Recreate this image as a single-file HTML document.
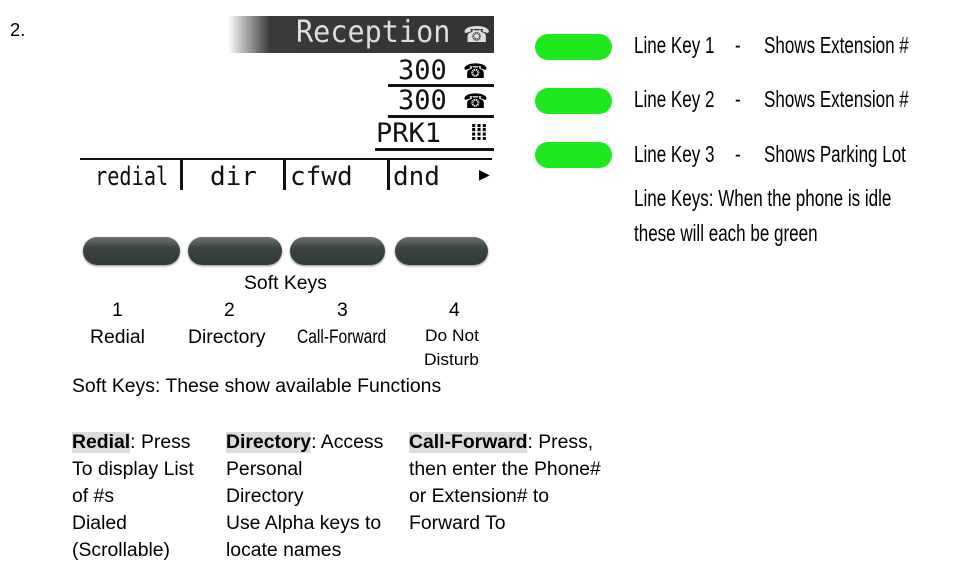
<!DOCTYPE html>
<html><head><meta charset="utf-8"><style>
body{margin:0;width:955px;height:579px;background:#fff;position:relative;overflow:hidden;font-family:"Liberation Sans",sans-serif;color:#000}
.t{position:absolute;white-space:nowrap;line-height:1;transform-origin:0 0}
.c{transform:scaleX(1.02)}
.n{transform:scaleX(.74)}
.m{font-family:"DejaVu Sans Mono","Liberation Mono",monospace;color:#111}
.btn{position:absolute;top:237px;height:28px;border-radius:14px;background:linear-gradient(#6b736e,#3b443f 40%,#323a35);box-shadow:0 1px 2px #888}
.g{position:absolute;left:535px;width:77px;height:26px;border-radius:13px;background:#1ee81e}
.ul{position:absolute;height:3px;background:#111}
.hl{background:#dcdcdc;font-weight:bold}
</style></head><body>
<div class="t c" style="left:10px;top:21px;font-size:18px">2.</div>

<div style="position:absolute;left:228px;top:16px;width:266px;height:37px;background:linear-gradient(90deg,#fff 0,#bbb 14px,#3a3a3a 42px,#333 100%)"></div>
<div class="t m" style="left:296px;top:18px;font-size:30px;color:#ddd;transform:scaleX(.95)">Reception</div>
<div class="t" style="left:463px;top:24px;font-size:22px;color:#ddd">☎</div>

<div class="t m" style="left:398px;top:57px;font-size:27px">300</div>
<div class="t" style="left:463px;top:62px;font-size:20px">☎</div>
<div class="ul" style="left:388px;top:84px;width:106px"></div>
<div class="t m" style="left:398px;top:87px;font-size:27px">300</div>
<div class="t" style="left:463px;top:92px;font-size:20px">☎</div>
<div class="ul" style="left:388px;top:115px;width:106px"></div>
<div class="t m" style="left:376px;top:120px;font-size:27px">PRK1</div>
<div class="t" style="left:470px;top:122px;font-size:22px;font-weight:bold;letter-spacing:-2px">⁞⁞⁞</div>
<div class="ul" style="left:375px;top:148px;width:119px"></div>

<div style="position:absolute;left:80px;top:158px;width:412px;height:2px;background:#111"></div>
<div style="position:absolute;left:180px;top:158px;width:3px;height:32px;background:#111"></div>
<div style="position:absolute;left:283px;top:158px;width:3px;height:32px;background:#111"></div>
<div style="position:absolute;left:387px;top:158px;width:3px;height:32px;background:#111"></div>
<div class="t m" style="left:95px;top:164px;font-size:26px;transform:scaleX(.78)">redial</div>
<div class="t m" style="left:210px;top:164px;font-size:26px">dir</div>
<div class="t m" style="left:290px;top:164px;font-size:26px">cfwd</div>
<div class="t m" style="left:393px;top:164px;font-size:26px">dnd</div>
<div class="t" style="left:479px;top:167px;font-size:14px">▶</div>

<div class="btn" style="left:83px;width:97px"></div>
<div class="btn" style="left:188px;width:94px"></div>
<div class="btn" style="left:290px;width:95px"></div>
<div class="btn" style="left:395px;width:93px"></div>

<div class="t c" style="left:244px;top:274px;font-size:19px">Soft Keys</div>
<div class="t c" style="left:112px;top:301px;font-size:19px">1</div>
<div class="t c" style="left:224px;top:301px;font-size:19px">2</div>
<div class="t c" style="left:337px;top:301px;font-size:19px">3</div>
<div class="t c" style="left:449px;top:301px;font-size:19px">4</div>
<div class="t c" style="left:90px;top:328px;font-size:19px">Redial</div>
<div class="t c" style="left:188px;top:328px;font-size:19px">Directory</div>
<div class="t" style="left:297px;top:328px;font-size:19px;transform:scaleX(.82)">Call-Forward</div>
<div class="t c" style="left:425px;top:327px;font-size:17px">Do Not</div>
<div class="t c" style="left:424px;top:351px;font-size:17px">Disturb</div>
<div class="t c" style="left:72px;top:377px;font-size:19px">Soft Keys: These show available Functions</div>

<div class="t c" style="left:72px;top:429px;font-size:19px;line-height:27px"><span class="hl">Redial</span>: Press<br>To display List<br>of #s<br>Dialed<br>(Scrollable)</div>
<div class="t c" style="left:226px;top:429px;font-size:19px;line-height:27px"><span class="hl">Directory</span>: Access<br>Personal<br>Directory<br>Use Alpha keys to<br>locate names</div>
<div class="t c" style="left:409px;top:429px;font-size:19px;line-height:27px"><span class="hl">Call-Forward</span>: Press,<br>then enter the Phone#<br>or Extension# to<br>Forward To</div>

<div class="g" style="top:34px"></div>
<div class="g" style="top:88px"></div>
<div class="g" style="top:142px"></div>
<div class="t n" style="left:634px;top:34px;font-size:23px">Line Key 1</div>
<div class="t n" style="left:634px;top:88px;font-size:23px">Line Key 2</div>
<div class="t n" style="left:634px;top:143px;font-size:23px">Line Key 3</div>
<div class="t n" style="left:735px;top:34px;font-size:23px">-</div>
<div class="t n" style="left:735px;top:88px;font-size:23px">-</div>
<div class="t n" style="left:735px;top:143px;font-size:23px">-</div>
<div class="t n" style="left:764px;top:34px;font-size:23px">Shows Extension #</div>
<div class="t n" style="left:764px;top:88px;font-size:23px">Shows Extension #</div>
<div class="t n" style="left:764px;top:143px;font-size:23px">Shows Parking Lot</div>
<div class="t n" style="left:634px;top:187px;font-size:23px">Line Keys: When the phone is idle</div>
<div class="t n" style="left:634px;top:222px;font-size:23px">these will each be green</div>
</body></html>
